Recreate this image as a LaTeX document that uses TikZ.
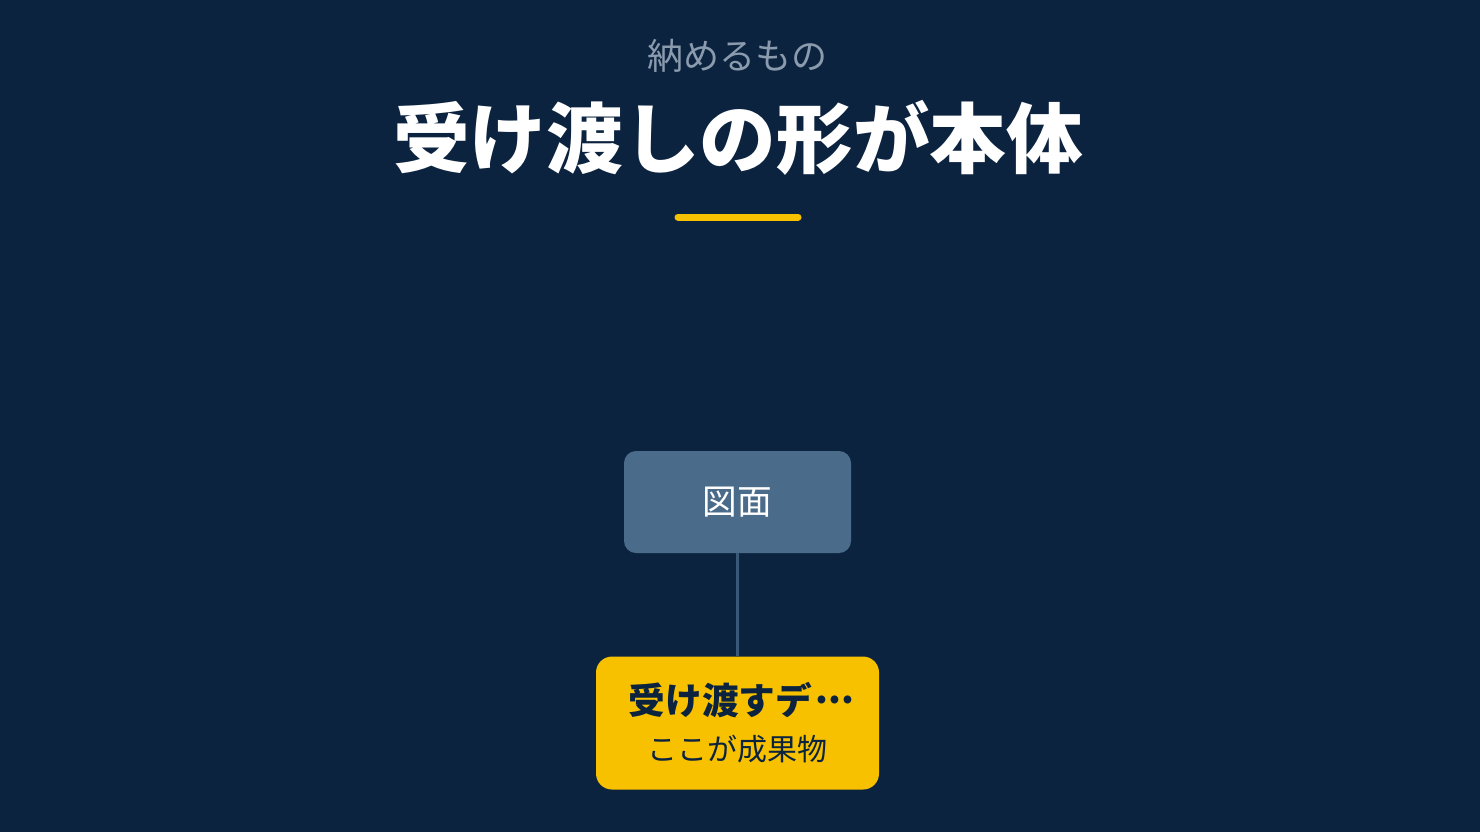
\documentclass[tikz,border=0pt]{standalone}
\usepackage{fontspec}
\setmainfont{Noto Sans CJK JP}
\usetikzlibrary{positioning}

\definecolor{bgnavy}{HTML}{0B233F}
\definecolor{boxgray}{HTML}{4B6B8A}
\definecolor{accent}{HTML}{F8C100}
\definecolor{subgray}{HTML}{8B9BAE}
\definecolor{linkblue}{HTML}{3A5877}

% 中点の三点リーダ
\newcommand{\midellip}{\hspace{.1em}\raisebox{.3em}{\makebox[.82em][s]{.\hfill.\hfill.}}}

\begin{document}
\begin{tikzpicture}[x=0.75pt,y=-0.75pt,line join=round,
  topbox/.style={draw=none,fill=boxgray,rounded corners=9pt,inner sep=0pt,
    minimum width=170.25pt,minimum height=76.5pt,text=white,
    font=\fontsize{26pt}{30pt}\selectfont},
  goalbox/.style={draw=none,fill=accent,rounded corners=12pt,inner sep=0pt,
    minimum width=212.25pt,minimum height=99.75pt,text=bgnavy,align=center},
  link/.style={draw=linkblue,line width=2.25pt}]

% ===== 背景 =====
\fill[bgnavy] (0,0) rectangle (1480,832);
\useasboundingbox (0,0) rectangle (1480,832);

% ===== 見出し =====
\node[text=subgray,font=\fontsize{27pt}{30pt}\selectfont] (kicker) at (737,56) {納めるもの};
\node[text=white,font=\fontsize{57.5pt}{62pt}\selectfont\bfseries] (title) at (738,138) {受け渡しの形が本体};

% 下線(アクセント)
\draw[accent,line width=5.25pt,line cap=round] (678,217) -- (798,217);

% ===== 図 =====
\node[topbox] (zumen) at (737.5,502) {図面};
\node[goalbox,below=77.25pt of zumen] (deliv)
  {{\fontsize{27.5pt}{30pt}\selectfont\bfseries 受け渡すデ\midellip}\\[12pt]
   {\fontsize{22.5pt}{26pt}\selectfont ここが成果物}};

\draw[link] (zumen) -- (deliv);

\end{tikzpicture}
\end{document}
